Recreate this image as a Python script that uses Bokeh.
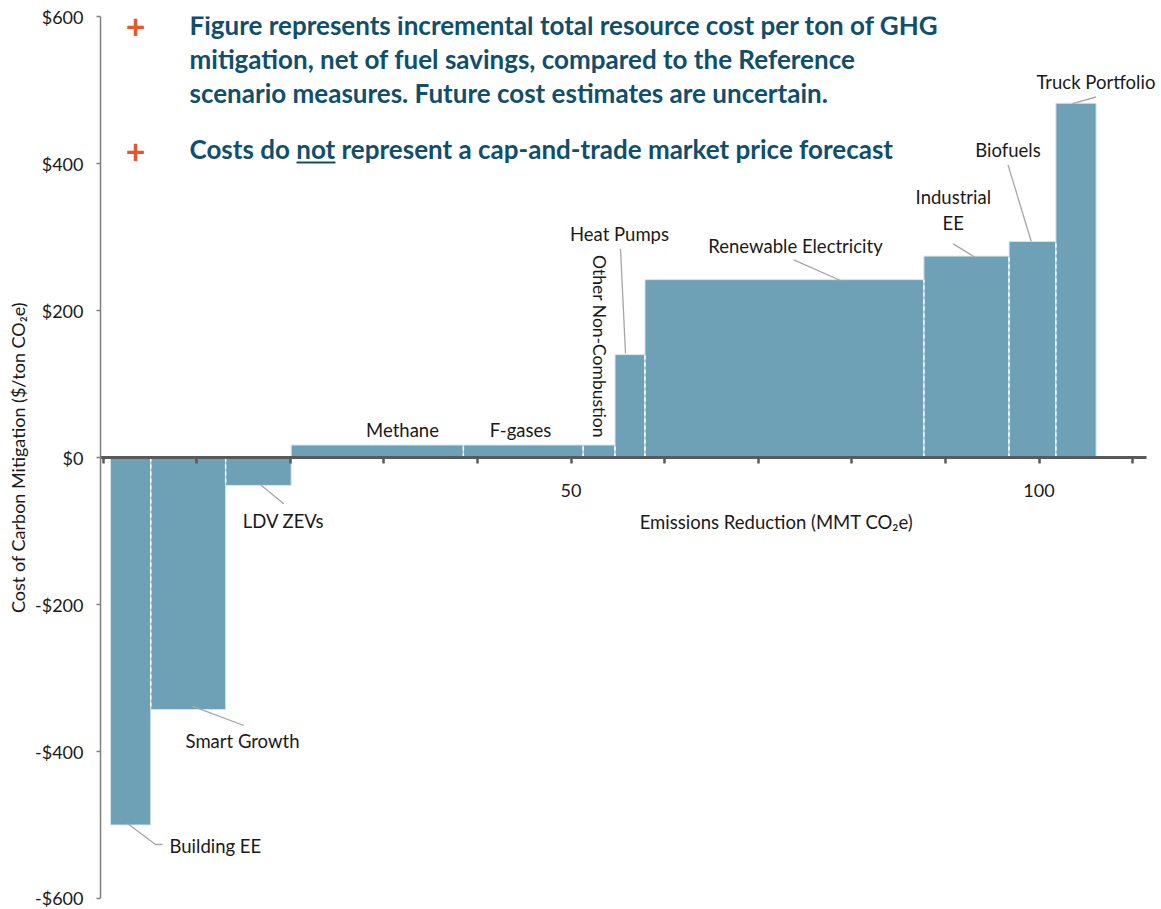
import numpy as np
from bokeh.plotting import figure
from bokeh.models import Range1d, FixedTicker
from bokeh.embed import file_html
from bokeh.resources import INLINE
from bokeh.core.properties import value

# ---------------- data ----------------
measures = ["Building EE", "Smart Growth", "LDV ZEVs", "Methane", "F-gases",
            "Other Non-Combustion", "Heat Pumps", "Renewable Electricity",
            "Industrial EE", "Biofuels", "Truck Portfolio"]
reduction = [4.3, 8.0, 7.0, 18.4, 12.8, 3.4, 3.2, 29.8, 9.1, 5.0, 4.3]   # MMT CO2e
cost = [-500, -343, -38, 17, 17, 17, 140, 242, 274, 294, 482]            # $/ton CO2e
curve_start = 0.8

x_ticks = list(range(0, 111, 10))
x_tick_labels = ["", "", "", "", "", "50", "", "", "", "", "100", ""]
y_ticks = [-600, -400, -200, 0, 200, 400, 600]
y_tick_labels = ["-$600", "-$400", "-$200", "$0", "$200", "$400", "$600"]

notes = ["Figure represents incremental total resource cost per ton of GHG",
         "mitigation, net of fuel savings, compared to the Reference",
         "scenario measures. Future cost estimates are uncertain.",
         "Costs do not represent a cap-and-trade market price forecast"]

# ---------------- layout / styles ----------------
FONT = "Lato"
BAR = "#6EA1B6"
TEAL = "#0F4F6B"
ORANGE = "#E8562A"
LEADER = "#A6A6A6"
INK = "#1a1a1a"
LABEL_SIZE = "18.5px"

FRAME_L, FRAME_T, FRAME_W, FRAME_H = 100, 16, 1058, 882
PX_X = 9.36
X0 = -0.27
X1 = X0 + FRAME_W / PX_X
AXIS_END = 111.5
Y0, Y1 = -600, 600
PX_Y = FRAME_H / (Y1 - Y0)

def dx(px):
    return X0 + (px - FRAME_L) / PX_X

def dy(py):
    return Y1 - (py - FRAME_T) / PX_Y

p = figure(frame_width=FRAME_W, frame_height=FRAME_H,
           output_backend="svg", toolbar_location=None,
           x_range=Range1d(X0, X1), y_range=Range1d(Y0, Y1),
           min_border_left=FRAME_L, min_border_top=FRAME_T,
           min_border_right=1, min_border_bottom=10)
p.outline_line_color = None
p.grid.visible = False
p.background_fill_color = "white"
p.border_fill_color = "white"

# bars
rights = curve_start + np.cumsum(reduction)
lefts = rights - np.array(reduction)
p.quad(left=lefts, right=rights, bottom=0, top=cost,
       fill_color=BAR, line_color="#D6E6EC", line_width=1)

# dashed separators between adjacent bars of the same sign
sx, sy0, sy1 = [], [], []
for i in range(len(cost) - 1):
    a, b = cost[i], cost[i + 1]
    if np.sign(a) == np.sign(b):
        sx.append(rights[i])
        sy0.append(0)
        sy1.append(np.sign(a) * min(abs(a), abs(b)))
p.segment(x0=sx, y0=sy0, x1=sx, y1=sy1, line_color="white",
          line_width=1.5, line_dash="4 3")

# axes
xa = p.xaxis[0]
xa.fixed_location = 0
xa.bounds = (X0, AXIS_END)
xa.ticker = FixedTicker(ticks=x_ticks)
xa.major_label_overrides = {t: "" for t in x_ticks}
xa.major_label_standoff = 0
xa.major_label_text_font_size = "1px"
xa.axis_line_color = "#595959"
xa.axis_line_width = 3
xa.major_tick_line_color = "#595959"
xa.major_tick_line_width = 2.5
xa.major_tick_out = 6
xa.major_tick_in = 0
xa.minor_tick_line_color = None

ya = p.yaxis[0]
ya.ticker = FixedTicker(ticks=y_ticks)
ya.major_label_overrides = dict(zip(y_ticks, y_tick_labels))
ya.axis_line_color = "#808080"
ya.axis_line_width = 1.5
ya.major_tick_line_color = "#808080"
ya.major_tick_line_width = 1.5
ya.major_tick_out = 4
ya.major_tick_in = 0
ya.minor_tick_line_color = None
ya.major_label_standoff = 13
ya.major_label_text_font = FONT
ya.major_label_text_font_size = "18px"
ya.major_label_text_color = INK
ya.axis_label = "Cost of Carbon Mitigation ($/ton CO\u2082e)"
ya.axis_label_text_font = FONT
ya.axis_label_text_font_size = "18px"
ya.axis_label_text_font_style = "normal"
ya.axis_label_text_color = INK
ya.axis_label_standoff = 3

# x tick labels (drawn below the zero line)
lab_t = [t for t, s in zip(x_ticks, x_tick_labels) if s]
lab_s = [s for s in x_tick_labels if s]
p.text(x=lab_t, y=[-33 / PX_Y] * len(lab_t), text=lab_s,
       text_font=value(FONT), text_font_size="18px", text_color=INK,
       text_align="center", text_baseline="middle")

# x axis title
p.text(x=[dx(776)], y=[dy(521.7)], text=["Emissions Reduction (MMT CO\u2082e)"],
       text_font=value(FONT), text_font_size=LABEL_SIZE, text_color=INK,
       text_align="center", text_baseline="middle")

# measure labels (pixel placement)
label_pos = {
    "Building EE": (169, 845, "left", 0, LABEL_SIZE),
    "Smart Growth": (242, 740, "center", 0, LABEL_SIZE),
    "LDV ZEVs": (283, 520, "center", 0, LABEL_SIZE),
    "Methane": (402, 429, "center", 0, LABEL_SIZE),
    "F-gases": (520, 429, "center", 0, LABEL_SIZE),
    "Other Non-Combustion": (598.5, 346, "center", -np.pi / 2, "17.5px"),
    "Heat Pumps": (619, 233, "center", 0, LABEL_SIZE),
    "Renewable Electricity": (795, 245, "center", 0, LABEL_SIZE),
    "Industrial EE": (952.8, 196, "center", 0, LABEL_SIZE),
    "Biofuels": (1007.5, 149, "center", 0, LABEL_SIZE),
    "Truck Portfolio": (1095.4, 81.5, "center", 0, LABEL_SIZE),
}
for name in measures:
    px, py, al, ang, fs = label_pos[name]
    parts = ["Industrial", "EE"] if name == "Industrial EE" else [name]
    for k, part in enumerate(parts):
        p.text(x=[dx(px)], y=[dy(py + 26.5 * k)], text=[part], angle=ang,
               text_font=value(FONT), text_font_size=fs, text_color=INK,
               text_align=al, text_baseline="middle")

leaders = {
    "Building EE": [(127, 823), (155, 844), (162, 844)],
    "Smart Growth": [(191.7, 705.7), (243.3, 725)],
    "LDV ZEVs": [(260, 484.3), (283.3, 503.3)],
    "Heat Pumps": [(620, 248.3), (625, 353)],
    "Renewable Electricity": [(793.3, 259.3), (840, 280)],
    "Industrial EE": [(952.8, 243.4), (975.3, 257.3)],
    "Biofuels": [(1007.5, 164.4), (1030.7, 240.7)],
    "Truck Portfolio": [(1095.4, 96.5), (1072, 103.1)],
}
p.multi_line(xs=[[dx(a) for a, b in v] for v in leaders.values()],
             ys=[[dy(b) for a, b in v] for v in leaders.values()],
             line_color=LEADER, line_width=1.3)

# notes at the top
note_centers = [24.5, 58.5, 92.0, 148.5]
for txt, cy in zip(notes, note_centers):
    p.text(x=[dx(189)], y=[dy(cy)], text=[txt], text_font=value(FONT),
           text_font_size="26px", text_font_style="bold", text_color=TEAL,
           text_align="left", text_baseline="middle")
p.text(x=[dx(135), dx(135)], y=[dy(25.5), dy(150.5)], text=["+", "+"],
       text_font=value(FONT), text_font_size="34px", text_font_style="bold",
       text_color=ORANGE, text_align="center", text_baseline="middle")
# underline for "not"
p.segment(x0=[dx(296)], y0=[dy(162)], x1=[dx(335)], y1=[dy(162)],
          line_color=TEAL, line_width=2)

open("out.html", "w").write(file_html(p, INLINE))
